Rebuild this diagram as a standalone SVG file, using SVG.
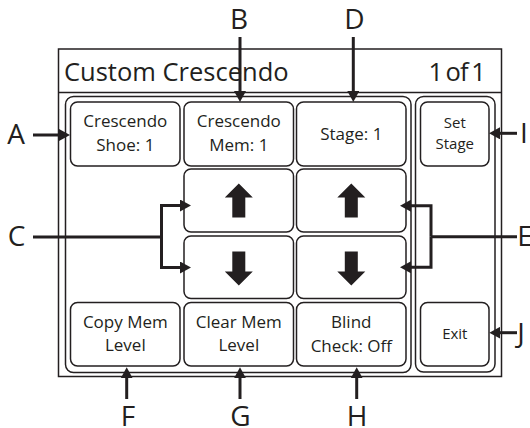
<svg xmlns="http://www.w3.org/2000/svg" width="530" height="428" viewBox="0 0 530 428">
  <style>
    .frame { fill: #fff; stroke: #231f20; stroke-width: 1.5; }
    .panel { fill: none; stroke: #231f20; stroke-width: 1.5; }
    .btn { fill: #fff; stroke: #231f20; stroke-width: 1.5; }
    .t { font-family: "Open Sans", "Liberation Sans", sans-serif; fill: #231f20; }
    .title { font-size: 25.5px; }
    .bl { font-size: 17px; text-anchor: middle; }
    .bs { font-size: 15px; text-anchor: middle; }
    .call { font-size: 28px; text-anchor: middle; }
    .glyph { fill: #231f20; }
    .con { fill: none; stroke: #231f20; stroke-width: 3; stroke-linejoin: miter; }
    .ah { marker-end: url(#head); }
  </style>
  <defs>
    <marker id="head" viewBox="0 0 11 12" refX="5" refY="6" markerWidth="11" markerHeight="12" markerUnits="userSpaceOnUse" orient="auto">
      <path d="M0,0 L11,6 L0,12 Z" fill="#231f20"/>
    </marker>
    <path id="up" d="M0,0 L14,14 L6.5,14 L6.5,34 L-6.5,34 L-6.5,14 L-14,14 Z"/>
    <path id="down" d="M0,0 L14,-14 L6.5,-14 L6.5,-34 L-6.5,-34 L-6.5,-14 L-14,-14 Z"/>
  </defs>

  <!-- screen frame with title bar -->
  <g id="screen">
    <rect class="frame" x="58.5" y="49" width="443" height="327.5"/>
    <line x1="58.5" y1="92.5" x2="501.5" y2="92.5" stroke="#231f20" stroke-width="1.5"/>
    <text class="t title" x="64" y="81">Custom Crescendo</text>
    <text class="t title" x="485" y="81" text-anchor="end" word-spacing="-2.5" letter-spacing="-0.8">1 of 1</text>
    <rect class="panel" x="65.5" y="96.5" width="345.5" height="276" rx="8"/>
    <rect class="panel" x="415.5" y="96.5" width="79.5" height="275.5" rx="8"/>
  </g>

  <!-- buttons -->
  <g id="crescendo-shoe">
    <rect class="btn" x="70.5" y="102" width="109.5" height="64" rx="7"/>
    <text class="t bl" x="125.3" y="127.3">Crescendo</text>
    <text class="t bl" x="125.3" y="151">Shoe: 1</text>
  </g>
  <g id="crescendo-mem">
    <rect class="btn" x="184" y="102" width="109.5" height="64" rx="7"/>
    <text class="t bl" x="238.8" y="127.3">Crescendo</text>
    <text class="t bl" x="238.8" y="151">Mem: 1</text>
  </g>
  <g id="stage">
    <rect class="btn" x="296.5" y="102" width="109.5" height="64" rx="7"/>
    <text class="t bl" x="351.3" y="140">Stage: 1</text>
  </g>
  <g id="set-stage">
    <rect class="btn" x="420.5" y="102" width="68.5" height="64" rx="7"/>
    <text class="t bs" x="454.8" y="128.3">Set</text>
    <text class="t bs" x="454.8" y="149">Stage</text>
  </g>
  <g id="mem-up">
    <rect class="btn" x="184" y="169" width="109.5" height="63" rx="7"/>
    <use href="#up" class="glyph" x="238.8" y="183.5"/>
  </g>
  <g id="stage-up">
    <rect class="btn" x="296.5" y="169" width="109.5" height="63" rx="7"/>
    <use href="#up" class="glyph" x="351.3" y="183.5"/>
  </g>
  <g id="mem-down">
    <rect class="btn" x="184" y="236" width="109.5" height="62.5" rx="7"/>
    <use href="#down" class="glyph" x="238.8" y="285.5"/>
  </g>
  <g id="stage-down">
    <rect class="btn" x="296.5" y="236" width="109.5" height="62.5" rx="7"/>
    <use href="#down" class="glyph" x="351.3" y="285.5"/>
  </g>
  <g id="copy-mem">
    <rect class="btn" x="70.5" y="302.5" width="109.5" height="63.5" rx="7"/>
    <text class="t bl" x="125.3" y="327.5">Copy Mem</text>
    <text class="t bl" x="125.3" y="351">Level</text>
  </g>
  <g id="clear-mem">
    <rect class="btn" x="184" y="302.5" width="109.5" height="63.5" rx="7"/>
    <text class="t bl" x="238.8" y="327.5">Clear Mem</text>
    <text class="t bl" x="238.8" y="351">Level</text>
  </g>
  <g id="blind-check">
    <rect class="btn" x="296.5" y="302.5" width="109.5" height="63.5" rx="7"/>
    <text class="t bl" x="351.3" y="327.5">Blind</text>
    <text class="t bl" x="351.3" y="351.5">Check: Off</text>
  </g>
  <g id="exit">
    <rect class="btn" x="420.5" y="302.5" width="68.5" height="63.5" rx="7"/>
    <text class="t bs" x="454.8" y="338.7">Exit</text>
  </g>

  <!-- callout letters -->
  <g id="callouts">
    <text class="t call" x="16" y="144.3">A</text>
    <text class="t call" x="239" y="29.3">B</text>
    <text class="t call" x="16.5" y="246.3">C</text>
    <text class="t call" x="354.3" y="29.3">D</text>
    <text class="t call" x="525" y="245.5" text-anchor="start">E</text>
    <text class="t call" x="128" y="425.5">F</text>
    <text class="t call" x="240.5" y="425.5">G</text>
    <text class="t call" x="357.2" y="425.5">H</text>
    <text class="t call" x="524" y="142.5" text-anchor="start">I</text>
    <text class="t call" x="521" y="342.5" text-anchor="start">J</text>
  </g>

  <!-- leader lines -->
  <g id="connectors">
    <path class="con ah" d="M33,135 H64"/>
    <path class="con ah" d="M240,37 V96"/>
    <path class="con ah" d="M353.3,37 V96"/>
    <path class="con" d="M33,237 H161.5"/>
    <path class="con ah" d="M161.5,237 V205.5 H185"/>
    <path class="con ah" d="M161.5,237 V267.5 H185"/>
    <path class="con" d="M517,236.7 H431"/>
    <path class="con ah" d="M431,236.7 V205.7 H406"/>
    <path class="con ah" d="M431,236.7 V267.3 H406"/>
    <path class="con ah" d="M517,133.3 H495"/>
    <path class="con ah" d="M517,332.7 H495.3"/>
    <path class="con ah" d="M126.7,399 V373.3"/>
    <path class="con ah" d="M240,399 V373.3"/>
    <path class="con ah" d="M356.7,399 V373.3"/>
  </g>
</svg>
